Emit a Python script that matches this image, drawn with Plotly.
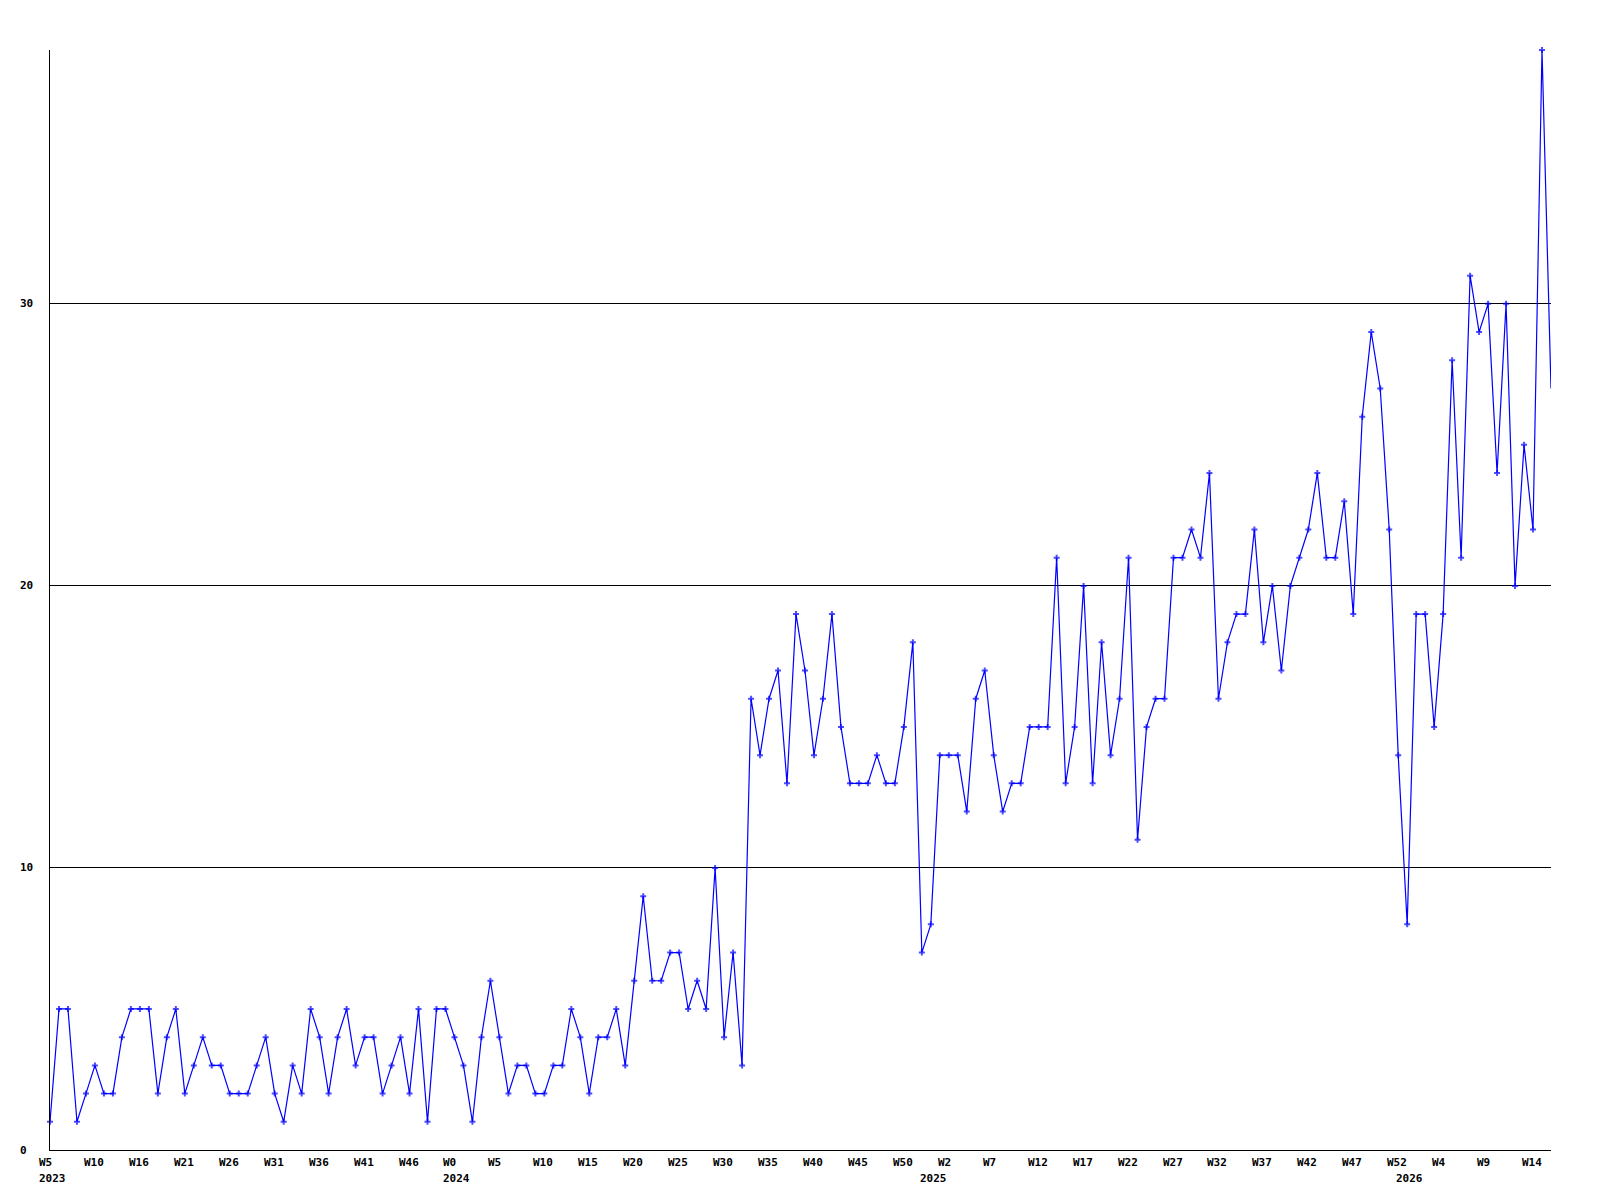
import plotly.graph_objects as go

values = [
    1, 5, 5, 1, 2, 3, 2, 2, 4, 5, 5, 5, 2, 4, 5, 2, 3, 4, 3, 3, 2, 2, 2, 3, 4, 2, 1, 3, 2, 5, 4, 2, 4, 5, 3, 4, 4, 2, 3, 4, 2, 5,
    1, 5, 5, 4, 3, 1, 4, 6, 4, 2, 3, 3, 2, 2, 3, 3, 5, 4, 2, 4, 4, 5, 3, 6, 9, 6, 6, 7, 7, 5, 6, 5, 10, 4, 7, 3, 16,
    14, 16, 17, 13, 19, 17, 14, 16, 19, 15, 13, 13, 13, 14, 13, 13, 15, 18, 7, 8, 14, 14, 14, 12, 16,
    17, 14, 12, 13, 13, 15, 15, 15, 21, 13, 15, 20, 13, 18, 14, 16, 21, 11, 15, 16, 16, 21, 21, 22, 21, 24, 16, 18, 19, 19, 22, 18, 20, 17,
    20, 21, 22, 24, 21, 21, 23, 19, 26, 29, 27, 22, 14, 8, 19, 19, 15, 19, 28, 21, 31, 29, 30, 24, 30, 20, 25, 22, 39, 27,
]

tick_weeks = ["W5", "W10", "W16", "W21", "W26", "W31", "W36", "W41", "W46",
              "W0", "W5", "W10", "W15", "W20", "W25", "W30", "W35", "W40", "W45", "W50",
              "W2", "W7", "W12", "W17", "W22", "W27", "W32", "W37", "W42", "W47", "W52",
              "W4", "W9", "W14"]
tick_step = 5

year_labels = ["2023", "2024", "2025", "2026"]
year_index = [0, 45, 98, 151]

y_ticks = [0, 10, 20, 30]

x = list(range(len(values)))
sizes = [5] * (len(values) - 1) + [0]

fig = go.Figure()
fig.add_trace(go.Scatter(
    x=x, y=values, mode="lines+markers",
    line=dict(color="#0000FF", width=1.2),
    marker=dict(symbol="cross", size=sizes, color="#0000FF", line=dict(width=0)),
    cliponaxis=False,
    showlegend=False,
    hoverinfo="skip",
))

font = dict(family="DejaVu Sans Mono", size=11, color="#000000", weight="bold")

annotations = []
for i, w in enumerate(tick_weeks):
    annotations.append(dict(
        x=i * tick_step, xref="x", y=0, yref="paper",
        text=w, showarrow=False, xanchor="left", yanchor="top",
        align="left", xshift=-13, yshift=-4, font=font,
    ))
for yi, yl in zip(year_index, year_labels):
    annotations.append(dict(
        x=yi, xref="x", y=0, yref="paper",
        text=yl, showarrow=False, xanchor="left", yanchor="top",
        align="left", xshift=-13, yshift=-20, font=font,
    ))
for v in y_ticks:
    annotations.append(dict(
        x=0, xref="paper", y=v, yref="y",
        text=str(v), showarrow=False, xanchor="left", yanchor="middle",
        xshift=-32, font=font,
    ))

fig.update_layout(
    width=1600, height=1200,
    margin=dict(l=42, r=57, t=42, b=58),
    paper_bgcolor="#FFFFFF", plot_bgcolor="#FFFFFF",
    font=font,
    annotations=annotations,
    xaxis=dict(range=[0, len(values) - 1], showgrid=False, zeroline=False,
               showticklabels=False, ticks="", showline=True, linecolor="#000000",
               linewidth=1, mirror=False),
    yaxis=dict(range=[0, 39], tickvals=y_ticks, showgrid=True, gridcolor="#000000",
               gridwidth=1, zeroline=False, showticklabels=False, ticks="",
               showline=True, linecolor="#000000", linewidth=1, mirror=False),
)

fig.write_html("out.html")
